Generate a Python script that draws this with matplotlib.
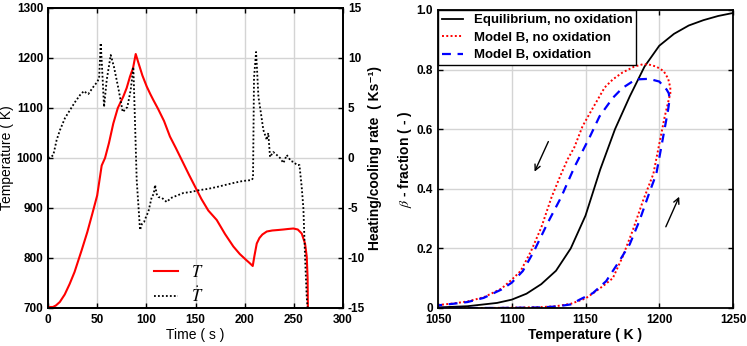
import numpy as np
import matplotlib
matplotlib.use('Agg')
import matplotlib.pyplot as plt

plt.rcParams['font.family'] = ['Liberation Sans', 'DejaVu Sans']
plt.rcParams['mathtext.fontset'] = 'stix'
plt.rcParams['axes.unicode_minus'] = False

# --- left panel: temperature history and heating/cooling rate ---
time_T = [0, 5, 8, 12, 17, 22, 27, 34.3, 40, 45, 50, 54.6, 58, 62, 66.4, 71, 76.6, 80, 83.4,
          86.5, 89.2, 92, 96, 100.4, 104, 107.1, 112, 118, 124, 130, 137, 143.5, 149.5, 156,
          163, 171.6, 180, 188.5, 195, 201, 205, 208.2, 210, 212.3, 215, 218, 222.5, 228, 234,
          239.4, 244, 249.5, 254, 258, 261.4, 263.1, 264, 264.3]
temp_T = [702, 702, 705, 712, 727, 748, 772, 816, 852, 888, 925, 985, 1000, 1030, 1069, 1100,
          1123, 1140, 1163, 1180, 1208, 1190, 1165, 1143, 1128, 1116, 1098, 1074, 1043, 1020, 992,
          966, 943, 918, 895, 876, 848, 823, 808, 797, 790, 784, 805, 829, 840, 847, 853, 855,
          856, 857, 858, 859, 857, 849, 829, 803, 760, 700]

time_rate = [0, 3, 5.4, 8.8, 12.2, 17.3, 22.4, 27.5, 32.6, 36.6, 39, 41, 46, 50, 52, 53.6, 55,
             57, 59.7, 63.8, 67.1, 71.5, 76, 78, 80.7, 84.1, 86.8, 88.5, 90.2, 93.6, 95.5, 97.7,
             100, 102, 105.5, 107.5, 108.9, 110.5, 112.2, 116, 120.7, 125, 130, 137.6, 145,
             154.6, 162, 171.6, 180, 188.5, 198, 207.2, 208.5, 209.5, 211.6, 212.5, 214, 216.5,
             219, 222.5, 224, 225.8, 229, 232.7, 236, 239.4, 242.8, 247, 250, 253, 255.7, 258,
             259.7, 261.4, 263.1, 264]
rate = [0, 0.1, 0.3, 1.8, 2.8, 4.0, 4.8, 5.6, 6.3, 6.7, 6.5, 6.4, 7.1, 7.6, 8.0, 11.5, 9,
        5.1, 7.8, 10.3, 9.1, 7.0, 4.6, 4.8, 5.1, 6.8, 9.1, 3.5, -2.2, -7.2, -6.6, -6.4,
        -5.8, -5.4, -3.9, -3.6, -2.7, -3.6, -3.9, -4.0, -4.4, -4.0, -3.8, -3.5, -3.4,
        -3.2, -3.1, -2.9, -2.7, -2.5, -2.3, -2.2, -2.0, 8, 10.6, 9, 6.1, 4.5,
        2.8, 1.8, 2.5, 0.1, 0.6, 0.3, 0, -0.5, 0.3, -0.3, -0.4, -0.7, -0.7, -2.9,
        -5.0, -9.9, -13.9, -15]

# --- right panel: beta fraction vs temperature ---
T_eq = [1050, 1070, 1090, 1100, 1110, 1120, 1130, 1140, 1150, 1160, 1170, 1180, 1190, 1200,
        1210, 1220, 1230, 1240, 1250]
b_eq = [0.002, 0.006, 0.017, 0.028, 0.048, 0.08, 0.125, 0.2, 0.31, 0.465, 0.6, 0.71, 0.81,
        0.88, 0.92, 0.948, 0.966, 0.98, 0.99]

T_noox = [1050, 1080, 1100, 1120, 1130, 1140, 1150, 1157, 1163, 1168.5, 1175, 1182, 1189, 1196,
          1200, 1203.6, 1206, 1207.5, 1207.5, 1206, 1203, 1198, 1193, 1189, 1183, 1175, 1168.5,
          1163, 1159.5, 1153, 1148, 1142.5, 1138, 1133.5, 1127, 1120, 1113, 1106, 1100, 1093,
          1081, 1070, 1060, 1050]
b_noox = [0.0, 0.0, 0.001, 0.003, 0.006, 0.014, 0.032, 0.056, 0.078, 0.1, 0.17, 0.26, 0.36,
          0.45, 0.55, 0.64, 0.69, 0.72, 0.74, 0.77, 0.795, 0.81, 0.817, 0.818, 0.81, 0.79,
          0.767, 0.74, 0.71, 0.654, 0.61, 0.54, 0.5, 0.45, 0.372, 0.27, 0.19, 0.124, 0.095,
          0.065, 0.036, 0.022, 0.015, 0.01]

T_ox = [1050, 1080, 1100, 1120, 1130, 1140, 1146, 1155, 1164, 1173, 1180, 1186.6, 1193, 1198,
        1201, 1203.6, 1206, 1207, 1206.5, 1205, 1200, 1193, 1184, 1175, 1168.5, 1159.5, 1153,
        1146, 1142.5, 1133.5, 1124, 1115, 1107.5, 1100, 1093, 1081, 1070, 1060, 1050]
b_ox = [0.0, 0.0, 0.0005, 0.002, 0.005, 0.012, 0.028, 0.05, 0.09, 0.158, 0.214, 0.293, 0.383,
        0.45, 0.53, 0.6, 0.665, 0.7, 0.72, 0.733, 0.76, 0.769, 0.767, 0.738, 0.705, 0.643,
        0.575, 0.507, 0.473, 0.372, 0.282, 0.19, 0.124, 0.085, 0.062, 0.034, 0.02, 0.014, 0.009]

grid_kw = dict(color='#d4d4d4', linewidth=1.0)
tick_fs = 8.5


def matlab_box(ax):
    for s in ax.spines.values():
        s.set_linewidth(1.3)
    ax.tick_params(direction='in', length=3.5, width=1.0, labelsize=tick_fs, top=True)
    ax.tick_params(axis='x', pad=4.5)
    for lab in ax.get_xticklabels() + ax.get_yticklabels():
        lab.set_fontweight('bold')


fig = plt.figure(figsize=(7.47, 3.46), dpi=100)

ax1 = fig.add_axes([48 / 747, 38 / 346, 295 / 747, 300 / 346])
ax1.set_xlim(0, 300)
ax1.set_ylim(700, 1300)
ax1.set_xticks(np.arange(0, 301, 50))
ax1.set_yticks(np.arange(700, 1301, 100))
ax1.grid(True, **grid_kw)
ax1.set_axisbelow(True)
l1, = ax1.plot(time_T, temp_T, color='red', linewidth=1.5, label='$T$')
ax1.set_xlabel('Time ( s )', fontsize=10, labelpad=1)
ax1.set_ylabel('Temperature ( K)', fontsize=10, labelpad=2)
matlab_box(ax1)
ax1.tick_params(right=False)

ax2 = ax1.twinx()
ax2.set_ylim(-15, 15)
ax2.set_yticks(np.arange(-15, 16, 5))
l2, = ax2.plot(time_rate, rate, color='black', linestyle=(0, (1, 1.2)), linewidth=1.3,
               label=r'$\dot{T}$')
ax2.set_ylabel('Heating/cooling rate  ( Ks⁻¹)', fontsize=10, fontweight='bold', labelpad=2)
matlab_box(ax2)
ax2.tick_params(top=False)

leg1 = ax1.legend([l1, l2], ['$T$', r'$\dot{T}$'], loc='lower left', bbox_to_anchor=(0.31, -0.04),
                  frameon=False, fontsize=12, handlelength=1.4, labelspacing=0.3)

# right panel
ax3 = fig.add_axes([438 / 747, 38 / 346, 295 / 747, 298 / 346])
ax3.set_xlim(1050, 1250)
ax3.set_ylim(0, 1)
ax3.set_xticks(np.arange(1050, 1251, 50))
ax3.set_yticks([0, 0.2, 0.4, 0.6, 0.8, 1.0])
ax3.set_yticklabels(['0', '0.2', '0.4', '0.6', '0.8', '1.0'])
ax3.grid(True, **grid_kw)
ax3.set_axisbelow(True)
ax3.plot(T_eq, b_eq, color='black', linewidth=1.3, label='Equilibrium, no oxidation')
ax3.plot(T_noox, b_noox, color='red', linestyle=(0, (1, 1.2)), linewidth=1.4,
         label='Model B, no oxidation')
ax3.plot(T_ox, b_ox, color='blue', linestyle=(0, (4, 3)), linewidth=1.6, label='Model B, oxidation')
ax3.annotate('', xy=(1114.7, 0.449), xytext=(1125.6, 0.567),
             arrowprops=dict(arrowstyle='->', color='black', linewidth=1.0))
ax3.annotate('', xy=(1214.3, 0.382), xytext=(1203.7, 0.264),
             arrowprops=dict(arrowstyle='->', color='black', linewidth=1.0))
ax3.set_xlabel('Temperature ( K )', fontsize=10, fontweight='bold', labelpad=1)
ax3.set_ylabel(r'$\beta$ - fraction ( - )', fontsize=10, fontweight='bold', labelpad=2)
matlab_box(ax3)
ax3.tick_params(right=True)
leg3 = ax3.legend(loc='upper left', borderaxespad=0, fancybox=False, edgecolor='black',
                  handlelength=1.6, labelspacing=0.4, borderpad=0.3,
                  prop=dict(weight='bold', size=9.5))
leg3.get_frame().set_linewidth(1.0)
leg3.get_frame().set_alpha(1)

fig.savefig('out.png', dpi=100)
